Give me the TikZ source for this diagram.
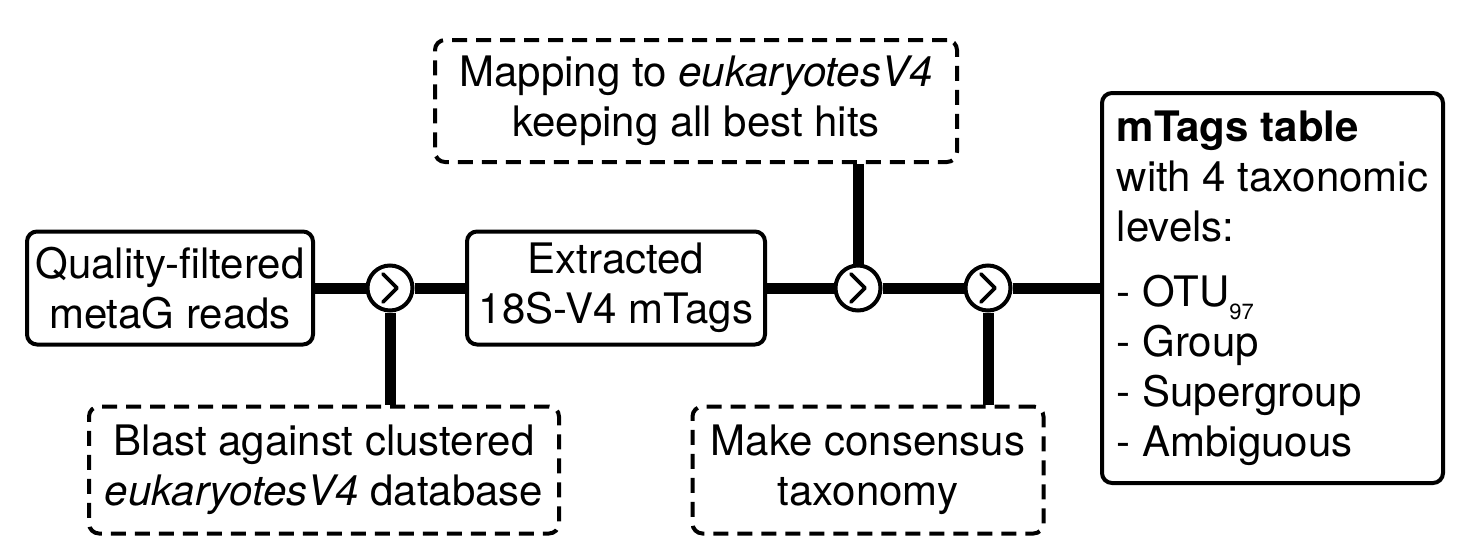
\documentclass[tikz,border=0pt]{standalone}
\usepackage{fontspec}
\setmainfont{TeX Gyre Heros}
\usetikzlibrary{calc}
\begin{document}
\begin{tikzpicture}[x=0.5pt,y=-0.5pt,
  every node/.style={font=\fontsize{21}{25}\selectfont},
  solidbox/.style={draw, line width=2pt, rounded corners=5pt, align=center, inner sep=0pt},
  dashbox/.style={draw, line width=2pt, rounded corners=5pt, dash pattern=on 7.5pt off 4.5pt, align=center, inner sep=0pt},
  conn/.style={line width=5.5pt},
  joint/.style={circle, draw, line width=2pt, fill=white, minimum size=22.5pt, inner sep=0pt},
  chev/.style={line width=1.8pt, line cap=round, line join=round}]
\useasboundingbox (0,0) rectangle (1458,558);

% main boxes
\node[solidbox, minimum width=143pt, minimum height=56.5pt] (qf) at (170,288) {Quality-filtered\\metaG reads};
\node[solidbox, minimum width=149pt, minimum height=56.5pt] (ex) at (616,288) {Extracted\\18S-V4 mTags};
\node[solidbox, minimum width=170.5pt, minimum height=195pt, align=left] (tab) at (1272.5,288)
  {{\bfseries mTags table}\\with 4 taxonomic\\levels:\\[7.5pt]- OTU\raisebox{-6.5pt}{\fontsize{11}{11}\selectfont 97}\\- Group\\- Supergroup\\- Ambiguous};

% dashed boxes
\node[dashbox, minimum width=261pt, minimum height=61pt] (map) at (696,101) {Mapping to \textit{eukaryotesV4}\\keeping all best hits};
\node[dashbox, minimum width=235pt, minimum height=63.5pt] (bl) at (324,470) {Blast against clustered\\\textit{eukaryotesV4} database};
\node[dashbox, minimum width=175.5pt, minimum height=63.5pt] (cons) at (868,470) {Make consensus\\taxonomy};

% joints
\node[joint] (c1) at (390,288) {};
\node[joint] (c2) at (858,288) {};
\node[joint] (c3) at (988,288) {};

% connectors
\draw[conn] (qf.east) -- (c1.west);
\draw[conn] (c1.east) -- (ex.west);
\draw[conn] (ex.east) -- (c2.west);
\draw[conn] (c2.east) -- (c3.west);
\draw[conn] (c3.east) -- (tab.west);
\draw[conn] (c1.south) -- (c1.south |- bl.north);
\draw[conn] (c2.north) -- (c2.north |- map.south);
\draw[conn] (c3.south) -- (c3.south |- cons.north);

% chevrons
\foreach \c in {c1,c2,c3}{
  \draw[chev] ($(\c)+(-7,-14)$) -- ($(\c)+(7,0)$) -- ($(\c)+(-7,14)$);
}
\end{tikzpicture}
\end{document}
